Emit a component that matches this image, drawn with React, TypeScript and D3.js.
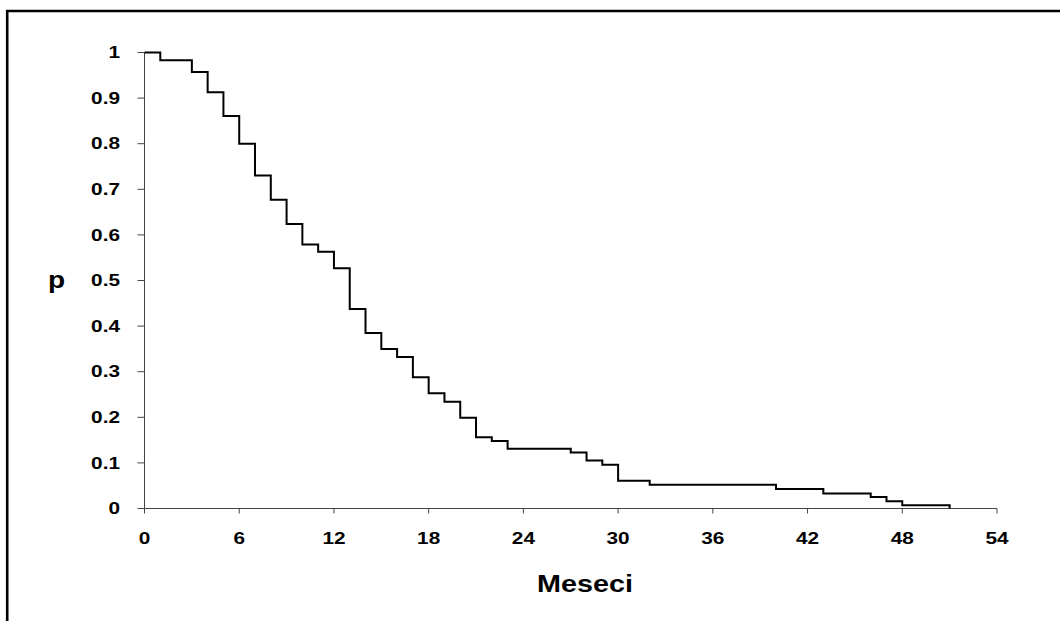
import React from "react";
import * as d3 from "d3";

// Kaplan–Meier survival estimate: event times (months) and survival probability after each step
const months = [0, 1, 3, 4, 5, 6, 7, 8, 9, 10, 11, 12, 13, 14, 15, 16, 17, 18, 19, 20, 21, 22, 23, 27, 28, 29, 30, 32, 40, 43, 46, 47, 48, 51];
const survival = [1, 0.983, 0.957, 0.913, 0.861, 0.8, 0.73, 0.677, 0.624, 0.579, 0.563, 0.527, 0.4375, 0.385, 0.35, 0.332, 0.288, 0.253, 0.234, 0.199, 0.156, 0.148, 0.131, 0.123, 0.105, 0.096, 0.061, 0.052, 0.043, 0.033, 0.025, 0.016, 0.007, 0];

const xTicks = [0, 6, 12, 18, 24, 30, 36, 42, 48, 54];
const yTicks = [0, 0.1, 0.2, 0.3, 0.4, 0.5, 0.6, 0.7, 0.8, 0.9, 1];
const xTitle = "Meseci";
const yTitle = "p";

const W = 1060;
const H = 621;
const FONT = "'Liberation Sans', Arial, sans-serif";
const STRETCH = 1.3;

export default function App() {
  const x = d3.scaleLinear().domain([0, 54]).range([144.5, 997]);
  const y = d3.scaleLinear().domain([0, 1]).range([508.5, 52.5]);

  const points: [number, number][] = months.map((m, i) => [m, survival[i]]);
  const line = d3
    .line<[number, number]>()
    .x((d) => x(d[0]))
    .y((d) => y(d[1]))
    .curve(d3.curveStepAfter);

  const axisColor = "#444";

  return (
    <svg
      width={W}
      height={H}
      style={{ position: "absolute", left: 0, top: 0, background: "#fff" }}
    >
      <rect x={0} y={0} width={W} height={H} fill="#fff" />
      {/* outer frame */}
      <path d={`M7.2,${H} V11 H${W}`} fill="none" stroke="#000" strokeWidth={2.6} />

      {/* y axis */}
      <line x1={x(0)} x2={x(0)} y1={y(1)} y2={y(0)} stroke={axisColor} strokeWidth={1} />
      {yTicks.map((t) => (
        <g key={`y${t}`}>
          <line x1={x(0) - 7} x2={x(0)} y1={y(t)} y2={y(t)} stroke={axisColor} strokeWidth={1} />
          <text
            transform={`translate(120,${y(t)}) scale(${STRETCH},1)`}
            textAnchor="end"
            dominantBaseline="central"
            fontFamily={FONT}
            fontWeight="bold"
            fontSize={16}
            fill="#000"
          >
            {String(t)}
          </text>
        </g>
      ))}

      {/* x axis */}
      <line x1={x(0)} x2={x(54)} y1={y(0)} y2={y(0)} stroke={axisColor} strokeWidth={1} />
      {xTicks.map((t) => (
        <g key={`x${t}`}>
          <line x1={x(t)} x2={x(t)} y1={y(0)} y2={y(0) + 5} stroke={axisColor} strokeWidth={1} />
          <text
            transform={`translate(${x(t)},543.5) scale(${STRETCH},1)`}
            textAnchor="middle"
            fontFamily={FONT}
            fontWeight="bold"
            fontSize={16}
            fill="#000"
          >
            {String(t)}
          </text>
        </g>
      ))}

      {/* axis titles */}
      <text
        transform={`translate(585,591.5) scale(1.25,1)`}
        textAnchor="middle"
        fontFamily={FONT}
        fontWeight="bold"
        fontSize={23}
        fill="#000"
      >
        {xTitle}
      </text>
      <text
        transform={`translate(56.5,288) scale(1.22,1)`}
        textAnchor="middle"
        fontFamily={FONT}
        fontWeight="bold"
        fontSize={23}
        fill="#000"
      >
        {yTitle}
      </text>

      {/* survival curve */}
      <path d={line(points) ?? ""} fill="none" stroke="#000" strokeWidth={2} />
    </svg>
  );
}
